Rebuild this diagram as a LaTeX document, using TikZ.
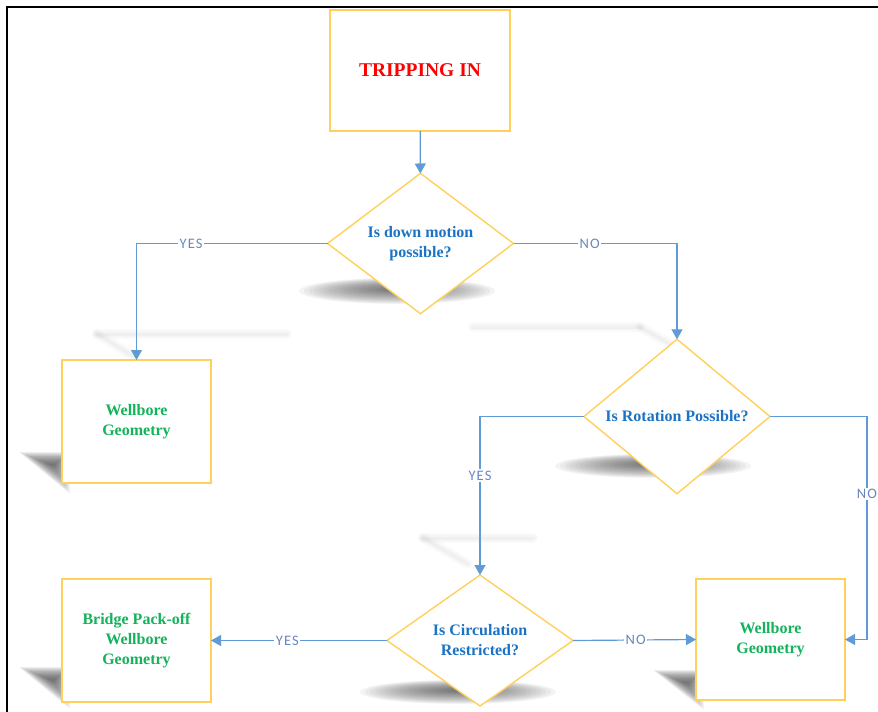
\documentclass[tikz,border=0pt]{standalone}
\usepackage{fontspec}
\setmainfont{Liberation Serif}
\newfontfamily\labelfont[LetterSpace=8]{Carlito}
\usetikzlibrary{shapes.geometric,arrows.meta}

\definecolor{boxline}{RGB}{255,208,90}
\definecolor{flow}{RGB}{96,155,213}
\definecolor{flowtext}{RGB}{105,135,190}
\definecolor{qblue}{RGB}{28,115,195}
\definecolor{okgreen}{RGB}{20,178,90}
\definecolor{shade}{RGB}{70,70,70}

\tikzset{
  base/.style={draw=boxline, line width=1.4pt, fill=white, inner sep=0pt, outer sep=0pt,
               align=center, font=\bfseries\fontsize{16}{20}\selectfont},
  stepbox/.style={base, rectangle, minimum width=149pt, minimum height=123pt, text=okgreen},
  startbox/.style={base, rectangle, minimum width=180pt, minimum height=121pt, text=red,
                   font=\bfseries\fontsize{19.5}{22}\selectfont},
  decision/.style={base, diamond, minimum width=186pt, minimum height=131pt, text=qblue},
  flowline/.style={draw=flow, line width=1.2pt, -{Triangle[width=11pt,length=10pt]}},
  answer/.style={fill=white, inner sep=1.5pt, text=flowtext, font=\labelfont\fontsize{14.5}{14}\selectfont},
  framerule/.style={line width=2.4pt, black}
}

% soft shadow: the same shape filled many times, shrinking about its centre
\newcommand{\softfill}[3]{%
  \foreach \s in {1,0.95,...,0.05}{
    \begin{scope}[shift={#1}, scale=\s]
      \fill[shade, opacity=#3] #2;
    \end{scope}
  }%
}

\begin{document}
\begin{tikzpicture}[x=1pt,y=-1pt]
\useasboundingbox (0,0) rectangle (878,712);

% frame
\draw[framerule] (7,712) -- (7,7) -- (878,7);

% faint connector shadows
\foreach \p in {{(97,334) -- (287,334)}, {(97,334) -- (133,356)},
                {(473,327) -- (640,327)}, {(640,327) -- (675,347)},
                {(423,538) -- (533,538)}, {(423,538) -- (468,564)}}{
  \draw[shade, opacity=0.018, line width=10pt, line cap=round] \p;
  \draw[shade, opacity=0.018, line width=6pt, line cap=round] \p;
  \draw[shade, opacity=0.018, line width=3pt, line cap=round] \p;
}

% diamond shadows
\softfill{(397,291)}{(0,0) ellipse [x radius=98, y radius=13]}{0.035}
\softfill{(653,466)}{(0,0) ellipse [x radius=98, y radius=12]}{0.035}
\softfill{(458,692)}{(0,0) ellipse [x radius=98, y radius=12]}{0.035}

% box shadows
\softfill{(53,466)}{(-34,-14) -- (17,-14) -- (17,28) -- cycle}{0.035}
\softfill{(53,681)}{(-34,-14) -- (17,-14) -- (17,28) -- cycle}{0.035}
\softfill{(687,684)}{(-34,-14) -- (17,-14) -- (17,26) -- cycle}{0.035}

% nodes
\node[startbox] (start) at (420,70.5) {TRIPPING IN};
\node[decision] (down) at (420.5,243.5) {Is down motion\\possible?};
\node[stepbox] (wgA) at (136.5,421.5) {Wellbore\\Geometry};
\node[decision] (rot) at (677,416.5) {Is Rotation Possible?};
\node[decision] (circ) at (480,640.5) {Is Circulation\\Restricted?};
\node[stepbox] (pack) at (136.5,640.5) {Bridge Pack-off\\Wellbore\\Geometry};
\node[stepbox, minimum height=121pt] (wgB) at (770.5,639.5) {Wellbore\\Geometry};
\coordinate (noturn) at (867,639.5);

% connectors
\draw[flowline] (start) -- (down);
\draw[flowline] (down.west) -| node[answer, pos=0.357] {YES} (wgA.north);
\draw[flowline] (down.east) -| node[answer, pos=0.233] {NO} (rot.north);
\draw[flowline] (rot.west) -| node[answer, pos=0.686] {YES} (circ.north);
\draw[flowline] (rot.east) -| node[answer, pos=0.674] {NO} (noturn) -- (wgB.east);
\draw[flowline] (circ.west) -- node[answer, pos=0.566] {YES} (pack.east);
\draw[flowline] (circ.east) -- node[answer, pos=0.51] {NO} (wgB.west);
\end{tikzpicture}
\end{document}
